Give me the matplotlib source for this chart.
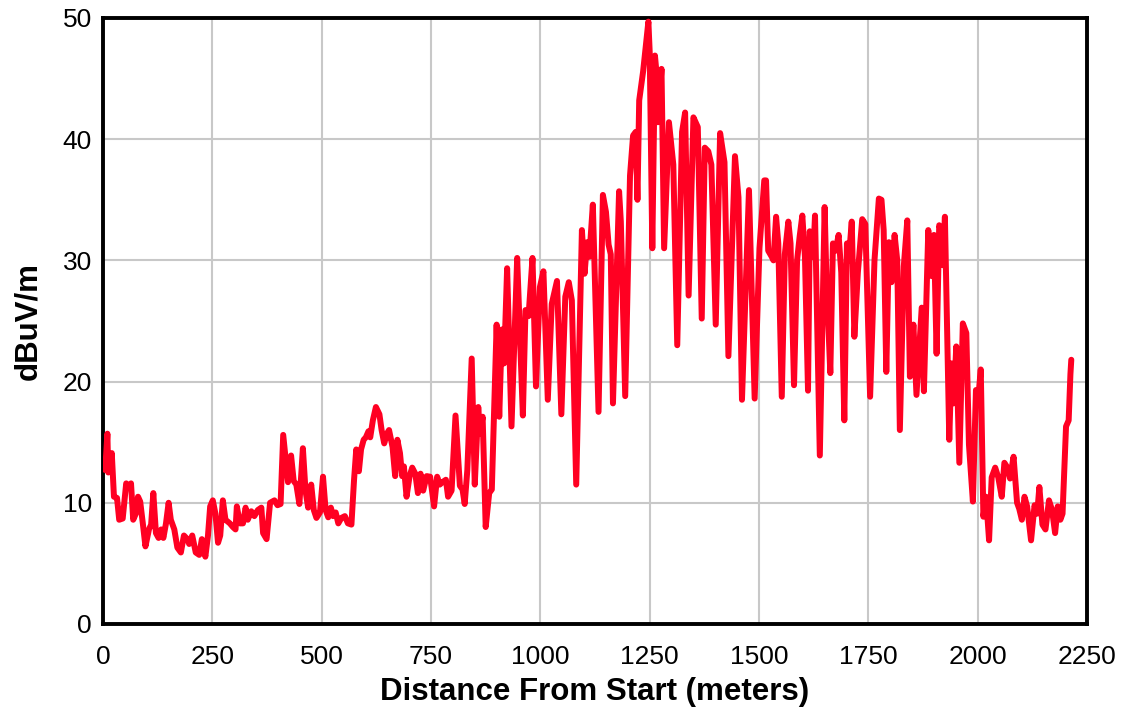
import matplotlib.pyplot as plt

# distance from start (m) and field strength (dBuV/m)
dist = [5, 10, 12, 20, 25, 32, 37, 45, 53, 58, 64, 69, 75, 80, 85, 91, 97, 105, 110, 115,
        121, 127, 133, 138, 144, 150, 155, 163, 170, 178, 185, 193, 197, 204, 212, 220, 226, 234, 240, 245,
        251, 257, 263, 268, 274, 280, 290, 297, 303, 306, 313, 320, 326, 331, 339, 346, 354, 362, 366, 374,
        382, 392, 399, 406, 412, 417, 423, 430, 436, 442, 449, 457, 463, 469, 476, 482, 488, 496, 503, 509,
        515, 521, 526, 532, 538, 545, 553, 560, 568, 574, 579, 585, 590, 596, 601, 607, 611, 617, 624, 632,
        637, 643, 649, 654, 662, 668, 673, 679, 684, 688, 694, 701, 707, 714, 720, 726, 732, 740, 748, 757,
        764, 770, 776, 784, 789, 797, 806, 816, 822, 827, 833, 843, 850, 858, 862, 868, 875, 883, 889, 900,
        906, 912, 917, 924, 934, 947, 952, 960, 966, 973, 982, 990, 999, 1007, 1017, 1026, 1038, 1048, 1057, 1065,
        1072, 1082, 1095, 1101, 1107, 1112, 1120, 1133, 1143, 1150, 1156, 1161, 1166, 1180, 1184, 1194, 1205, 1212, 1218, 1222,
        1226, 1235, 1247, 1250, 1256, 1262, 1266, 1269, 1277, 1283, 1294, 1304, 1313, 1324, 1331, 1339, 1350, 1360, 1369, 1376,
        1384, 1391, 1401, 1411, 1421, 1430, 1445, 1453, 1461, 1477, 1490, 1501, 1512, 1516, 1521, 1529, 1533, 1539, 1544, 1552,
        1559, 1567, 1572, 1580, 1587, 1593, 1599, 1605, 1612, 1616, 1624, 1628, 1639, 1650, 1654, 1663, 1669, 1675, 1682, 1688,
        1695, 1701, 1705, 1712, 1718, 1726, 1736, 1743, 1754, 1764, 1774, 1780, 1785, 1791, 1797, 1803, 1810, 1816, 1822, 1831,
        1839, 1845, 1853, 1860, 1872, 1877, 1887, 1895, 1900, 1906, 1912, 1917, 1920, 1925, 1935, 1940, 1945, 1951, 1958, 1966,
        1974, 1980, 1989, 1996, 2001, 2007, 2013, 2019, 2026, 2032, 2040, 2047, 2055, 2061, 2068, 2074, 2082, 2090, 2095, 2101,
        2107, 2113, 2122, 2130, 2136, 2141, 2148, 2155, 2163, 2170, 2177, 2183, 2189, 2194, 2198, 2202, 2208, 2212, 2214]
level = [12.7, 15.7, 12.5, 14.1, 10.5, 10.4, 8.6, 8.7, 11.6, 11.3, 11.6, 8.6, 9.1, 10.5, 10.1, 8.3, 6.4, 7.8, 8.2, 10.8,
         7.5, 7.1, 7.8, 7.1, 8.3, 10.0, 8.6, 7.8, 6.3, 5.9, 7.3, 7.0, 6.6, 7.3, 5.9, 5.7, 7.0, 5.55, 7.3, 9.7,
         10.2, 9.1, 6.7, 7.3, 10.2, 8.6, 8.3, 8.0, 7.8, 9.7, 8.3, 8.3, 9.6, 8.6, 9.3, 8.9, 9.4, 9.6, 7.5, 7.0,
         10.0, 10.2, 9.8, 9.9, 15.6, 13.8, 11.7, 13.9, 11.8, 11.5, 9.9, 14.5, 11.0, 9.6, 11.5, 9.4, 8.75, 9.2, 12.15, 9.4,
         8.8, 9.6, 8.9, 9.2, 8.3, 8.75, 8.9, 8.3, 8.2, 11.9, 14.4, 12.6, 14.4, 15.2, 15.4, 15.9, 15.4, 16.8, 17.9, 17.3,
         16.0, 14.9, 15.7, 16.0, 14.6, 12.2, 15.2, 14.1, 12.2, 13.0, 10.5, 12.2, 12.9, 12.4, 10.8, 12.4, 11.0, 12.2, 12.15, 9.7,
         12.15, 11.5, 11.7, 11.9, 10.5, 11.0, 17.2, 11.4, 11.1, 9.9, 12.7, 21.9, 11.5, 17.9, 15.7, 17.1, 8.0, 10.8, 11.1, 24.7,
         17.1, 24.3, 21.5, 29.35, 16.3, 30.2, 25.1, 17.2, 25.9, 25.4, 30.2, 19.6, 27.8, 29.1, 18.5, 26.4, 28.3, 17.3, 27.0, 28.2,
         26.7, 11.5, 32.5, 28.9, 31.5, 30.3, 34.6, 17.5, 35.4, 34.0, 31.3, 30.5, 18.2, 35.7, 33.2, 18.8, 37.0, 40.3, 40.6, 35.0,
         43.2, 45.6, 49.7, 47.2, 31.0, 46.9, 45.3, 41.4, 45.8, 31.0, 41.4, 37.9, 23.0, 40.6, 42.2, 27.1, 41.8, 41.0, 25.2, 39.3,
         39.0, 37.9, 24.7, 40.5, 38.1, 22.1, 38.6, 35.2, 18.5, 35.8, 18.6, 31.0, 36.6, 36.6, 30.8, 30.3, 30.0, 33.6, 31.4, 18.75,
         30.5, 33.2, 31.4, 19.7, 30.0, 32.0, 33.7, 30.3, 19.25, 32.4, 30.3, 33.7, 13.9, 34.4, 28.6, 20.7, 31.4, 30.8, 32.1, 29.0,
         16.8, 31.4, 30.0, 33.2, 23.7, 29.0, 33.4, 33.0, 18.75, 30.0, 35.1, 35.0, 32.5, 20.8, 31.5, 28.2, 32.1, 30.0, 16.0, 29.5,
         33.3, 20.4, 24.7, 18.9, 26.1, 19.2, 32.5, 28.7, 32.1, 22.3, 32.9, 32.4, 29.6, 33.6, 15.2, 21.5, 18.2, 22.9, 13.3, 24.8,
         24.0, 14.8, 10.1, 19.3, 18.5, 21.0, 8.85, 10.5, 6.9, 12.1, 12.9, 12.1, 10.5, 13.3, 12.9, 12.0, 13.8, 10.0, 9.5, 8.6,
         10.5, 9.7, 6.9, 9.8, 9.1, 11.3, 8.2, 7.8, 10.2, 9.4, 7.5, 9.7, 8.6, 9.1, 12.7, 16.3, 16.8, 20.6, 21.8]

x_ticks = [0, 250, 500, 750, 1000, 1250, 1500, 1750, 2000, 2250]
y_ticks = [0, 10, 20, 30, 40, 50]

plt.rcParams['font.family'] = ['Liberation Sans', 'DejaVu Sans']

fig = plt.figure(figsize=(11.21, 7.11), dpi=100)
ax = fig.add_axes([0.0919, 0.1224, 0.8778, 0.8523])

ax.plot(dist, level, color='#ff0022', linewidth=4.3, solid_joinstyle='round',
        solid_capstyle='round', zorder=3)

ax.set_xlim(0, 2250)
ax.set_ylim(0, 50)
ax.set_xticks(x_ticks)
ax.set_yticks(y_ticks)
ax.tick_params(axis='x', length=0, labelsize=19, pad=15)
ax.tick_params(axis='y', length=0, labelsize=19, pad=8)
ax.grid(True, color='#c8c8c8', linewidth=1.5)
ax.set_axisbelow(True)
for s in ax.spines.values():
    s.set_linewidth(2.8)
    s.set_color('black')

ax.set_xlabel('Distance From Start (meters)', fontsize=22.5, fontweight='bold', labelpad=6)
ax.set_ylabel('dBuV/m', fontsize=22.5, fontweight='bold', labelpad=14)

fig.savefig('out.png', dpi=100)
